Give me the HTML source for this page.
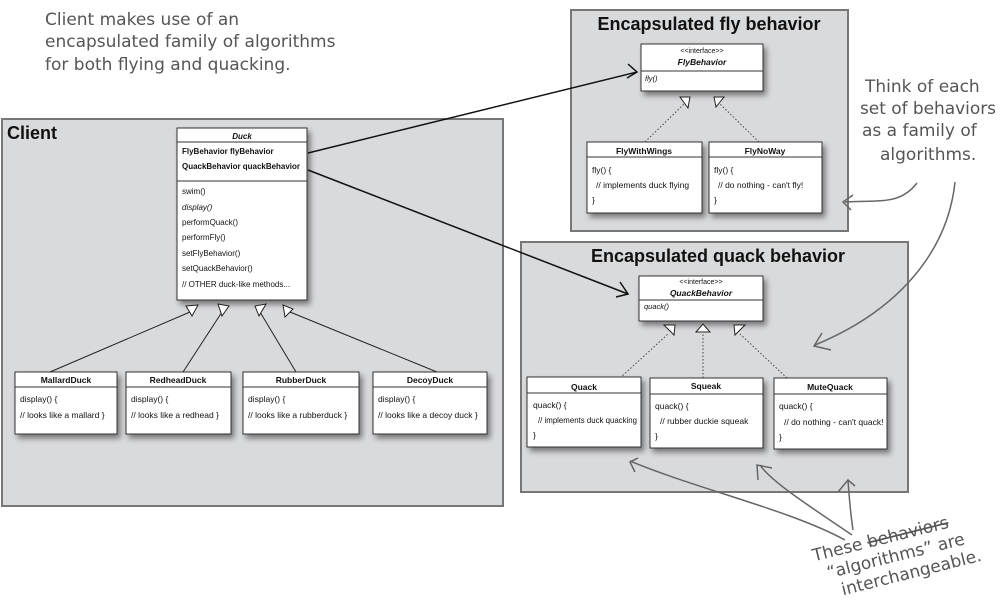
<!DOCTYPE html>
<html><head><meta charset="utf-8"><style>
html,body{margin:0;padding:0;background:#fff}
svg{display:block}
.t{font-family:"Liberation Sans",sans-serif;fill:#111}
.h{font-family:"DejaVu Sans",sans-serif;fill:#555;font-size:17px}
</style></head><body>
<svg width="1000" height="614" viewBox="0 0 1000 614" xmlns="http://www.w3.org/2000/svg">
<defs>
<filter id="sh" x="-10%" y="-10%" width="130%" height="140%"><feDropShadow dx="3" dy="4" stdDeviation="3" flood-color="#000" flood-opacity="0.45"/></filter>
</defs>
<rect x="2" y="119" width="501" height="387" fill="#d9dadc" stroke="#777" stroke-width="2"/>
<rect x="571" y="10" width="277" height="221" fill="#d9dadc" stroke="#777" stroke-width="2"/>
<rect x="521" y="242" width="387" height="250" fill="#d9dadc" stroke="#777" stroke-width="2"/>
<text class="t" x="7" y="139" font-size="18" font-weight="bold">Client</text>
<text class="t" x="709" y="30" font-size="18" font-weight="bold" text-anchor="middle">Encapsulated fly behavior</text>
<text class="t" x="718" y="262" font-size="18" font-weight="bold" text-anchor="middle">Encapsulated quack behavior</text>

<g filter="url(#sh)"><rect x="177" y="128" width="130" height="172" fill="#fff" stroke="#333"/></g>
<line x1="177" y1="142" x2="307" y2="142" stroke="#333"/>
<line x1="177" y1="181" x2="307" y2="181" stroke="#333"/>
<g class="t" font-size="8">
<text x="242" y="139" text-anchor="middle" font-style="italic" font-weight="bold">Duck</text>
<text x="182" y="154" font-weight="bold">FlyBehavior flyBehavior</text>
<text x="182" y="169" font-weight="bold" textLength="118" lengthAdjust="spacingAndGlyphs">QuackBehavior quackBehavior</text>
<text x="182" y="194">swim()</text>
<text x="182" y="210" font-style="italic">display()</text>
<text x="182" y="225">performQuack()</text>
<text x="182" y="240">performFly()</text>
<text x="182" y="256">setFlyBehavior()</text>
<text x="182" y="271">setQuackBehavior()</text>
<text x="182" y="287">// OTHER duck-like methods...</text>
</g>

<g stroke="#222" fill="none">
<line x1="50" y1="372" x2="190" y2="312"/>
<line x1="183" y1="372" x2="222" y2="312"/>
<line x1="296" y1="372" x2="260" y2="312"/>
<line x1="437" y1="372" x2="290" y2="312"/>
</g>
<g fill="#fff" stroke="#222">
<polygon points="186,306 198,305 192,316"/>
<polygon points="218,304 229,306 222,316"/>
<polygon points="255,306 266,304 259,316"/>
<polygon points="283,305 293,309 285,317"/>
</g>
<g filter="url(#sh)" fill="#fff" stroke="#333">
<rect x="15" y="372" width="102" height="62"/>
<rect x="126" y="372" width="105" height="62"/>
<rect x="243" y="372" width="116" height="62"/>
<rect x="373" y="372" width="114" height="62"/>
</g>
<g stroke="#333"><line x1="15" y1="387" x2="117" y2="387"/><line x1="126" y1="387" x2="231" y2="387"/><line x1="243" y1="387" x2="359" y2="387"/><line x1="373" y1="387" x2="487" y2="387"/></g>
<g class="t" font-size="8.5">
<text x="66" y="383" text-anchor="middle" font-weight="bold">MallardDuck</text>
<text x="20" y="402">display() {</text><text x="20" y="418">// looks like a mallard }</text>
<text x="178" y="383" text-anchor="middle" font-weight="bold">RedheadDuck</text>
<text x="131" y="402">display() {</text><text x="131" y="418">// looks like a redhead }</text>
<text x="301" y="383" text-anchor="middle" font-weight="bold">RubberDuck</text>
<text x="248" y="402">display() {</text><text x="248" y="418">// looks like a rubberduck }</text>
<text x="430" y="383" text-anchor="middle" font-weight="bold">DecoyDuck</text>
<text x="378" y="402">display() {</text><text x="378" y="418">// looks like a decoy duck }</text>
</g>

<g stroke="#111" stroke-width="1.5" fill="none">
<line x1="308" y1="153" x2="637" y2="72"/>
<polyline points="628,64 637,72 627,78"/>
<line x1="308" y1="170" x2="628" y2="294"/>
<polyline points="620,282 628,294 616,297"/>
</g>

<g filter="url(#sh)"><rect x="641" y="44" width="122" height="47" fill="#fff" stroke="#333"/></g>
<line x1="641" y1="71" x2="763" y2="71" stroke="#333"/>
<g class="t">
<text x="702" y="53" font-size="7" text-anchor="middle">&lt;&lt;interface&gt;&gt;</text>
<text x="702" y="65" font-size="8.5" text-anchor="middle" font-style="italic" font-weight="bold">FlyBehavior</text>
<text x="645" y="81" font-size="7.5" font-style="italic">fly()</text>
</g>
<g stroke="#444" stroke-dasharray="1.5,2" fill="none">
<line x1="645" y1="142" x2="684" y2="104"/>
<line x1="759" y1="142" x2="720" y2="104"/>
</g>
<g fill="#fff" stroke="#222">
<polygon points="680,97 690,97 688,108"/>
<polygon points="714,97 724,97 716,107"/>
</g>
<g filter="url(#sh)" fill="#fff" stroke="#333">
<rect x="587" y="142" width="115" height="71"/>
<rect x="709" y="142" width="113" height="71"/>
</g>
<g stroke="#333"><line x1="587" y1="157" x2="702" y2="157"/><line x1="709" y1="157" x2="822" y2="157"/></g>
<g class="t" font-size="8.5">
<text x="644" y="154" text-anchor="middle" font-weight="bold">FlyWithWings</text>
<text x="592" y="173">fly() {</text><text x="596" y="188">// implements duck flying</text><text x="592" y="203">}</text>
<text x="765" y="154" text-anchor="middle" font-weight="bold">FlyNoWay</text>
<text x="714" y="173">fly() {</text><text x="718" y="188">// do nothing - can't fly!</text><text x="714" y="203">}</text>
</g>

<g filter="url(#sh)"><rect x="639" y="276" width="124" height="45" fill="#fff" stroke="#333"/></g>
<line x1="639" y1="300" x2="763" y2="300" stroke="#333"/>
<g class="t">
<text x="701" y="284" font-size="7" text-anchor="middle">&lt;&lt;interface&gt;&gt;</text>
<text x="701" y="296" font-size="8.5" text-anchor="middle" font-style="italic" font-weight="bold">QuackBehavior</text>
<text x="644" y="309" font-size="7.5" font-style="italic">quack()</text>
</g>
<g stroke="#444" stroke-dasharray="1.5,2" fill="none">
<line x1="620" y1="378" x2="668" y2="334"/>
<line x1="703" y1="378" x2="703" y2="332"/>
<line x1="787" y1="378" x2="740" y2="334"/>
</g>
<g fill="#fff" stroke="#222">
<polygon points="664,325 675,325 674,335"/>
<polygon points="696,332 703,324 710,332"/>
<polygon points="734,325 745,325 735,335"/>
</g>
<g filter="url(#sh)" fill="#fff" stroke="#333">
<rect x="527" y="377" width="114" height="70"/>
<rect x="650" y="378" width="113" height="70"/>
<rect x="774" y="378" width="113" height="71"/>
</g>
<g stroke="#333"><line x1="527" y1="393" x2="641" y2="393"/><line x1="650" y1="394" x2="763" y2="394"/><line x1="774" y1="394" x2="887" y2="394"/></g>
<g class="t" font-size="8.5">
<text x="584" y="390" text-anchor="middle" font-weight="bold">Quack</text>
<text x="533" y="408">quack() {</text><text x="538" y="423" textLength="99" lengthAdjust="spacingAndGlyphs">// implements duck quacking</text><text x="533" y="438">}</text>
<text x="706" y="389" text-anchor="middle" font-weight="bold">Squeak</text>
<text x="655" y="409">quack() {</text><text x="660" y="424">// rubber duckie squeak</text><text x="655" y="439">}</text>
<text x="830" y="390" text-anchor="middle" font-weight="bold">MuteQuack</text>
<text x="779" y="409">quack() {</text><text x="784" y="425">// do nothing - can't quack!</text><text x="779" y="440">}</text>
</g>

<g class="h">
<text x="45" y="25">Client makes use of an</text>
<text x="45" y="47">encapsulated family of algorithms</text>
<text x="45" y="70">for both flying and quacking.</text>
<text x="865" y="92">Think of each</text>
<text x="860" y="114" textLength="136">set of behaviors</text>
<text x="862" y="136">as a family of</text>
<text x="880" y="160">algorithms.</text>
<g transform="rotate(-14 820 565)">
<text x="815" y="560">These <tspan text-decoration="line-through">behaviors</tspan></text>
<text x="825" y="580">“algorithms” are</text>
<text x="835" y="600">interchangeable.</text>
</g>
</g>
<g stroke="#666" stroke-width="1.5" fill="none">
<path d="M917 183 C900 205 880 200 845 202"/>
<polyline points="853,195 843,202 851,210"/>
<path d="M955 182 C948 250 900 310 815 345"/>
<polyline points="822,333 814,346 831,350"/>
<path d="M845 540 C790 510 700 490 630 461"/>
<polyline points="638,458 630,462 635,472"/>
<path d="M852 535 C800 500 770 480 760 465"/>
<polyline points="758,480 757,465 772,468"/>
<path d="M853 530 C850 510 849 495 848 480"/>
<polyline points="838,492 848,480 855,486"/>
</g>
</svg>
</body></html>
